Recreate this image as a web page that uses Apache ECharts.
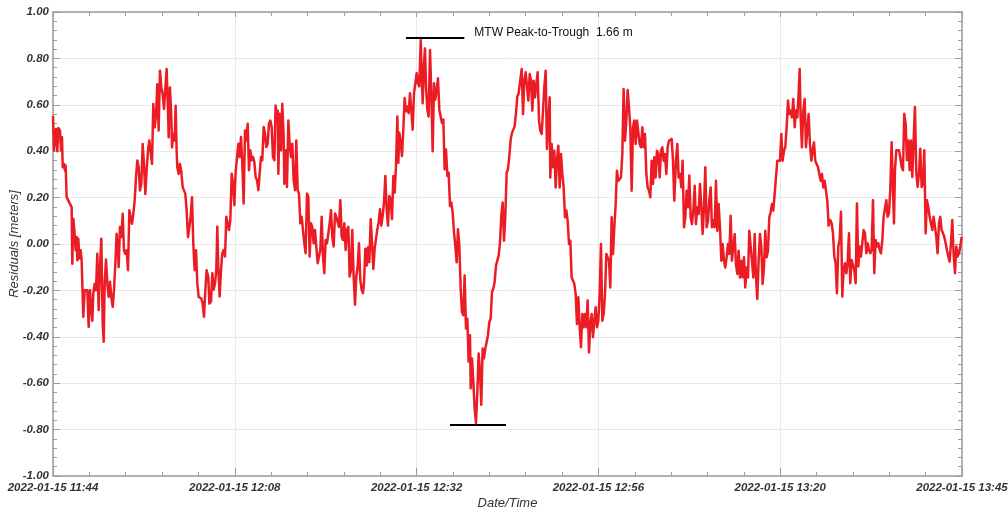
<!DOCTYPE html>
<html><head><meta charset="utf-8">
<script src="https://cdn.jsdelivr.net/npm/echarts@6/dist/echarts.min.js"></script>
<style>html,body{margin:0;padding:0;background:#fff}#c{width:1008px;height:513px}</style>
</head><body><div id="c"></div>
<script>
// x = minutes after 2022-01-15 11:44, y = residual in meters
const xTickLabels = ['2022-01-15 11:44','2022-01-15 12:08','2022-01-15 12:32','2022-01-15 12:56','2022-01-15 13:20','2022-01-15 13:45'];
const cycle1 = [[0.00,0.553],[0.13,0.403],[0.40,0.496],[0.57,0.40],[0.70,0.50],[0.92,0.489],[1.06,0.403],[1.19,0.46],[1.28,0.331],[1.45,0.345],[1.58,0.317],[1.67,0.338],[1.80,0.202],[2.02,0.209],[2.24,0.173],[2.46,0.159],[2.55,-0.085],[2.68,0.109],[2.82,0.059],[2.99,-0.027],[3.12,0.030],[3.21,-0.070],[3.34,0.023],[3.48,-0.063],[3.65,-0.027],[3.78,-0.070],[4.00,-0.314],[4.18,-0.199],[4.36,-0.199],[4.53,-0.199],[4.71,-0.357],[4.88,-0.199],[5.06,-0.285],[5.19,-0.331],[5.32,-0.214],[5.50,-0.171],[5.68,-0.199],[5.85,-0.042],[6.03,-0.285],[6.20,-0.099],[6.38,0.023],[6.56,-0.342],[6.69,-0.421],[6.82,-0.171],[7.00,-0.067],[7.17,-0.171],[7.35,-0.228],[7.52,-0.163],[7.70,-0.228],[7.88,-0.271],[8.05,-0.199],[8.23,-0.085],[8.40,0.044],[8.58,-0.027],[8.67,-0.099],[8.84,0.073],[9.02,0.030],[9.20,0.130],[9.37,-0.027],[9.55,-0.042],[9.72,-0.027],[9.90,-0.113],[10.08,0.145],[10.25,0.145],[10.43,0.087],[10.60,0.130],[10.78,0.188],[10.96,0.288],[11.13,0.360],[11.31,0.331],[11.48,0.231],[11.66,0.259],[11.84,0.431],[12.01,0.345],[12.19,0.216],[12.36,0.317],[12.54,0.403],[12.72,0.446],[12.89,0.453],[13.07,0.345],[13.24,0.603],[13.42,0.503],[13.60,0.553],[13.77,0.689],[13.95,0.489],[14.12,0.747],[14.30,0.675],[14.48,0.646],[14.65,0.582],[14.83,0.589],[15.00,0.754],[15.18,0.575],[15.27,0.460],[15.44,0.675],[15.62,0.546],[15.71,0.417],[15.88,0.474],[16.06,0.446],[16.19,0.596],[16.32,0.403],[16.41,0.331],[16.59,0.302],[16.76,0.345],[16.94,0.310],[17.12,0.245],[17.29,0.231],[17.47,0.216],[17.64,0.145],[17.82,0.030],[18.00,0.073],[18.17,0.116],[18.35,0.202],[18.52,0.001],[18.70,-0.113],[18.88,-0.027],[19.05,-0.171],[19.23,-0.228],[19.40,-0.235],[19.58,-0.235],[19.76,-0.257],[19.93,-0.314],[20.11,-0.199],[20.28,-0.113],[20.50,-0.142],[20.64,-0.257]];
const cycle2 = [[20.86,-0.248],[21.03,-0.126],[21.21,-0.197],[21.39,-0.169],[21.56,-0.112],[21.69,0.074],[21.83,-0.112],[22.00,-0.226],[22.18,-0.112],[22.35,-0.040],[22.53,-0.026],[22.71,-0.054],[22.88,0.117],[23.06,0.089],[23.23,0.060],[23.41,0.103],[23.59,0.303],[23.76,0.260],[23.94,0.167],[24.11,0.311],[24.29,0.318],[24.47,0.432],[24.64,0.375],[24.82,0.461],[24.99,0.346],[25.17,0.175],[25.35,0.489],[25.52,0.446],[25.70,0.518],[25.87,0.318],[26.05,0.404],[26.23,0.361],[26.40,0.375],[26.58,0.353],[26.75,0.289],[26.93,0.275],[27.11,0.232],[27.28,0.303],[27.46,0.375],[27.63,0.361],[27.81,0.504],[27.99,0.475],[28.16,0.418],[28.34,0.432],[28.51,0.518],[28.69,0.532],[28.87,0.504],[29.04,0.375],[29.22,0.361],[29.39,0.597],[29.57,0.532],[29.66,0.575],[29.75,0.303],[29.92,0.561],[30.10,0.404],[30.27,0.604],[30.45,0.461],[30.54,0.260],[30.71,0.404],[30.89,0.246],[31.07,0.532],[31.24,0.432],[31.42,0.375],[31.59,0.432],[31.77,0.275],[31.95,0.232],[32.12,0.446],[32.30,0.232],[32.47,0.218],[32.65,0.089],[32.83,0.117],[33.00,0.060],[33.18,0.003],[33.35,-0.040],[33.53,0.218],[33.71,0.203],[33.88,-0.054],[34.06,0.089],[34.23,0.074],[34.41,0.003],[34.59,0.060],[34.76,-0.011],[34.94,-0.083],[35.11,-0.054],[35.29,-0.026],[35.47,0.117],[35.64,-0.054],[35.82,-0.126],[35.99,0.017],[36.17,0.003],[36.35,0.046],[36.52,0.089],[36.70,0.146],[36.87,0.031],[37.05,-0.011],[37.23,0.132],[37.40,0.117],[37.58,0.124],[37.75,0.074],[37.93,0.189],[38.11,0.031],[38.28,0.017],[38.46,0.089],[38.63,-0.026],[38.81,0.060],[38.99,0.074],[39.16,-0.140],[39.34,-0.112],[39.51,0.060],[39.69,-0.140],[39.87,-0.262],[40.04,-0.140],[40.22,-0.097],[40.39,0.003],[40.57,-0.155],[40.75,-0.197],[40.92,-0.212]];
const cycle3 = [[41.06,-0.164],[41.23,-0.021],[41.41,-0.093],[41.58,-0.014],[41.76,-0.079],[41.94,0.107],[42.11,0.007],[42.29,-0.107],[42.46,-0.021],[42.64,-0.021],[42.82,0.064],[42.99,0.093],[43.17,0.150],[43.34,0.079],[43.52,0.121],[43.70,0.179],[43.87,0.293],[44.05,0.150],[44.22,0.079],[44.40,0.207],[44.58,0.193],[44.75,0.107],[44.93,0.293],[45.10,0.221],[45.28,0.336],[45.46,0.550],[45.59,0.350],[45.72,0.479],[45.90,0.436],[46.07,0.379],[46.25,0.493],[46.42,0.629],[46.60,0.572],[46.78,0.593],[46.95,0.564],[47.13,0.650],[47.30,0.579],[47.48,0.493],[47.66,0.650],[47.83,0.643],[48.01,0.736],[48.18,0.693],[48.36,0.679],[48.54,0.879],[48.67,0.736],[48.80,0.607],[48.98,0.779],[49.11,0.843],[49.24,0.679],[49.42,0.579],[49.59,0.550],[49.77,0.836],[49.94,0.650],[50.12,0.400],[50.30,0.693],[50.47,0.622],[50.65,0.664],[50.82,0.714],[51.00,0.579],[51.18,0.550],[51.35,0.522],[51.53,0.536],[51.70,0.322],[51.88,0.407],[52.06,0.293],[52.23,0.307],[52.41,0.164],[52.58,0.179],[52.76,0.136],[52.94,0.050],[53.11,-0.007],[53.29,-0.079],[53.46,0.064],[53.64,-0.007],[53.82,-0.193],[53.99,-0.293],[54.17,-0.307],[54.34,-0.136],[54.52,-0.364],[54.70,-0.322],[54.87,-0.507],[55.05,-0.393],[55.14,-0.622],[55.31,-0.493],[55.49,-0.593],[55.66,-0.707],[55.84,-0.772],[56.02,-0.636],[56.19,-0.472],[56.37,-0.550],[56.54,-0.693],[56.72,-0.450],[56.90,-0.493],[57.07,-0.450],[57.25,-0.422],[57.42,-0.393],[57.60,-0.336],[57.78,-0.322],[57.95,-0.207],[58.13,-0.193],[58.30,-0.164],[58.48,-0.093],[58.66,-0.093],[58.83,-0.050],[59.01,0.007],[59.18,0.121],[59.36,0.179],[59.54,0.014],[59.71,0.121],[59.89,0.307],[60.06,0.322],[60.24,0.379],[60.42,0.450],[60.59,0.479],[60.77,0.479],[60.94,0.507],[61.12,0.564],[61.30,0.636],[61.47,0.650]];
const cycle4 = [[61.69,0.647],[61.87,0.754],[62.05,0.560],[62.22,0.704],[62.40,0.740],[62.57,0.747],[62.75,0.618],[62.93,0.733],[63.10,0.704],[63.28,0.575],[63.45,0.704],[63.63,0.632],[63.81,0.690],[63.98,0.740],[64.16,0.532],[64.33,0.489],[64.51,0.474],[64.69,0.575],[64.86,0.675],[65.04,0.747],[65.21,0.410],[65.39,0.532],[65.57,0.632],[65.65,0.287],[65.83,0.431],[66.01,0.331],[66.18,0.402],[66.36,0.244],[66.53,0.359],[66.71,0.424],[66.89,0.244],[67.06,0.388],[67.24,0.302],[67.41,0.244],[67.59,0.115],[67.77,0.144],[67.94,0.101],[68.12,0.000],[68.29,0.014],[68.47,-0.144],[68.65,-0.158],[68.82,-0.172],[69.00,-0.216],[69.17,-0.345],[69.35,-0.230],[69.53,-0.359],[69.70,-0.445],[69.88,-0.302],[70.05,-0.359],[70.23,-0.302],[70.41,-0.359],[70.58,-0.244],[70.76,-0.467],[70.93,-0.345],[71.11,-0.302],[71.29,-0.402],[71.46,-0.331],[71.64,-0.273],[71.81,-0.359],[71.99,-0.331],[72.17,-0.216],[72.34,0.000],[72.52,-0.331],[72.69,-0.302],[72.87,-0.216],[73.05,-0.043],[73.22,-0.057],[73.40,-0.072],[73.57,-0.187],[73.75,0.115],[73.93,-0.043],[74.10,0.072],[74.28,0.172],[74.45,0.316],[74.63,0.273],[74.81,0.266],[74.98,0.287],[75.16,0.388],[75.33,0.668],[75.51,0.445],[75.69,0.532],[75.86,0.664],[76.04,0.589],[76.21,0.503],[76.39,0.230],[76.57,0.503],[76.74,0.532],[76.92,0.431],[77.09,0.532],[77.27,0.539],[77.45,0.431],[77.62,0.417],[77.80,0.503],[77.97,0.417],[78.15,0.474],[78.33,0.302],[78.50,0.244],[78.68,0.230],[78.85,0.201],[79.03,0.359],[79.21,0.259],[79.38,0.374],[79.56,0.287],[79.73,0.402],[79.91,0.388],[80.09,0.287],[80.26,0.402],[80.44,0.417],[80.61,0.359],[80.79,0.388],[80.97,0.302],[81.14,0.417],[81.32,0.445],[81.49,0.438],[81.67,0.453],[81.85,0.359],[82.02,0.187]];
const cycle5 = [[82.24,0.359],[82.42,0.431],[82.59,0.287],[82.77,0.302],[82.95,0.244],[83.12,0.359],[83.30,0.072],[83.47,0.115],[83.65,0.230],[83.83,0.158],[84.00,0.295],[84.18,0.115],[84.35,0.086],[84.53,0.144],[84.71,0.251],[84.88,0.086],[85.06,0.158],[85.23,0.129],[85.41,0.259],[85.59,0.158],[85.76,0.043],[85.94,0.158],[86.11,0.331],[86.29,0.072],[86.47,0.101],[86.64,0.187],[86.82,0.244],[86.99,0.072],[87.17,0.101],[87.35,0.072],[87.52,0.273],[87.70,0.057],[87.87,0.172],[88.05,0.072],[88.23,-0.072],[88.40,0.000],[88.58,-0.072],[88.75,-0.101],[88.93,-0.057],[89.11,0.000],[89.28,-0.043],[89.46,0.122],[89.63,-0.072],[89.81,-0.014],[89.99,0.043],[90.16,-0.086],[90.34,-0.129],[90.51,-0.029],[90.69,-0.144],[90.87,-0.072],[91.04,-0.144],[91.22,-0.057],[91.39,-0.187],[91.57,-0.101],[91.75,-0.144],[91.92,0.057],[92.10,0.065],[92.27,-0.072],[92.45,-0.144],[92.63,0.043],[92.80,-0.144],[92.98,-0.237],[93.15,-0.072],[93.33,0.043],[93.51,-0.014],[93.68,-0.172],[93.86,-0.101],[94.03,0.057],[94.21,-0.057],[94.39,-0.029],[94.56,0.115],[94.74,0.137],[94.91,0.172],[95.09,0.144],[95.27,0.216],[95.44,0.216],[95.62,0.359],[95.79,0.359],[95.97,0.359],[96.15,0.474],[96.32,0.359],[96.50,0.402],[96.67,0.417],[96.85,0.503],[97.03,0.618],[97.20,0.560],[97.38,0.575],[97.55,0.546],[97.73,0.625],[97.91,0.503],[98.08,0.575],[98.26,0.546],[98.43,0.647],[98.57,0.754],[98.70,0.546],[98.87,0.417],[99.05,0.575],[99.23,0.625],[99.40,0.417],[99.58,0.489],[99.75,0.560],[99.93,0.431],[100.11,0.359],[100.28,0.402],[100.46,0.438],[100.63,0.359],[100.81,0.359],[100.99,0.331],[101.16,0.302],[101.34,0.273],[101.51,0.302],[101.69,0.244],[101.87,0.273],[102.04,0.230],[102.22,0.187],[102.39,0.079]];
const cycle6 = [[102.61,0.103],[102.79,0.089],[102.97,0.046],[103.14,-0.054],[103.32,-0.083],[103.49,-0.212],[103.67,-0.011],[103.85,0.017],[104.02,0.139],[104.20,-0.226],[104.37,-0.112],[104.55,-0.083],[104.73,-0.126],[104.90,-0.083],[105.08,0.046],[105.25,-0.169],[105.43,-0.069],[105.61,-0.069],[105.78,-0.112],[105.96,-0.169],[106.13,0.175],[106.31,-0.097],[106.49,-0.011],[106.66,-0.054],[106.84,-0.054],[107.01,0.060],[107.19,0.046],[107.37,-0.040],[107.54,0.003],[107.72,-0.026],[107.89,-0.040],[108.07,-0.026],[108.25,0.189],[108.42,-0.126],[108.60,0.017],[108.77,-0.011],[108.95,0.003],[109.13,-0.026],[109.30,-0.040],[109.48,0.017],[109.65,0.117],[109.83,0.117],[110.01,0.189],[110.18,0.117],[110.36,0.132],[110.53,0.232],[110.71,0.439],[110.89,0.232],[111.02,0.089],[111.15,0.318],[111.33,0.404],[111.50,0.411],[111.68,0.404],[111.85,0.375],[112.03,0.332],[112.21,0.318],[112.38,0.561],[112.56,0.518],[112.73,0.361],[112.91,0.446],[113.09,0.318],[113.26,0.446],[113.44,0.289],[113.61,0.446],[113.79,0.590],[113.97,0.303],[114.14,0.246],[114.32,0.303],[114.49,0.411],[114.67,0.246],[114.85,0.260],[115.02,0.404],[115.20,0.046],[115.37,0.189],[115.55,0.160],[115.73,0.117],[115.90,0.089],[116.08,0.060],[116.25,0.117],[116.43,0.074],[116.61,0.031],[116.78,-0.040],[116.96,0.089],[117.13,0.117],[117.31,0.060],[117.49,0.046],[117.66,0.031],[117.84,0.003],[118.01,-0.026],[118.19,-0.054],[118.37,-0.076],[118.54,0.003],[118.72,0.103],[118.89,-0.040],[119.07,-0.126],[119.25,-0.011],[119.42,-0.054],[119.60,-0.040],[119.77,-0.011],[119.95,0.031],[120.00,0.03]];
const peakMark = {from: 46.6, to: 54.3, level: 0.89};
const troughMark = {from: 52.4, to: 59.8, level: -0.78};
const noteText = 'MTW Peak-to-Trough  1.66 m';
const notePos = [54.9, 0.909];

const residuals = [].concat(cycle1, cycle2, cycle3, cycle4, cycle5, cycle6);
const axisColor = '#9b9b9b';
const labelFont = {fontFamily:'Liberation Sans', fontSize:11.5, fontWeight:'bold', fontStyle:'italic', color:'#333'};
const nameFont = {fontFamily:'Liberation Sans', fontSize:13, fontStyle:'italic', color:'#333'};
const chart = echarts.init(document.getElementById('c'), null, {renderer:'canvas'});
const baseX = {
  type:'value', min:0, max:120, interval:24,
  axisLine:{show:true, onZero:false, lineStyle:{color:axisColor, width:1.5}},
  axisTick:{show:true, inside:true, length:8, lineStyle:{color:axisColor}},
  minorTick:{show:true, splitNumber:5, length:4, lineStyle:{color:axisColor}}
};
const baseY = {
  type:'value', min:-1, max:1, interval:0.2,
  axisLine:{show:true, onZero:false, lineStyle:{color:axisColor, width:1.5}},
  axisTick:{show:true, inside:true, length:7, lineStyle:{color:axisColor}},
  minorTick:{show:true, splitNumber:5, length:4, lineStyle:{color:axisColor}}
};
chart.setOption({
  animation:false,
  backgroundColor:'#fff',
  grid:{left:53, right:46, top:12, bottom:37, containLabel:false, outerBoundsMode:'none'},
  xAxis:[
    Object.assign({}, baseX, {
      position:'bottom',
      splitLine:{show:true, lineStyle:{color:'#e9e9e9', width:1}},
      axisLabel:Object.assign({}, labelFont, {margin:6, showMinLabel:true, showMaxLabel:true,
        formatter:v => xTickLabels[Math.round(v/24)]}),
      name:'Date/Time', nameLocation:'middle', nameGap:21, nameMoveOverlap:false, nameTextStyle:nameFont
    }),
    Object.assign({}, baseX, {
      position:'top', axisTick:{show:true, inside:true, length:5, lineStyle:{color:axisColor}},
      splitLine:{show:false}, axisLabel:{show:false}
    })
  ],
  yAxis:[
    Object.assign({}, baseY, {
      position:'left',
      splitLine:{show:true, lineStyle:{color:'#e9e9e9', width:1}},
      axisLabel:Object.assign({}, labelFont, {margin:4,
        formatter:v => (Math.abs(v) < 1e-9 ? 0 : v).toFixed(2)}),
      name:'Residuals [meters]', nameLocation:'middle', nameGap:32, nameRotate:90, nameMoveOverlap:false, nameTextStyle:nameFont
    }),
    Object.assign({}, baseY, {
      position:'right', splitLine:{show:false}, axisLabel:{show:false}
    })
  ],
  series:[{
    type:'line', data:residuals, xAxisIndex:0, yAxisIndex:0,
    showSymbol:false, symbol:'none', silent:true,
    lineStyle:{color:'#ec1c24', width:2.5, join:'round'},
    markLine:{
      silent:true, symbol:['none','none'], label:{show:false},
      lineStyle:{color:'#000', width:2, type:'solid'},
      data:[
        [{coord:[peakMark.from, peakMark.level]}, {coord:[peakMark.to, peakMark.level]}],
        [{coord:[troughMark.from, troughMark.level]}, {coord:[troughMark.to, troughMark.level]}]
      ]
    },
    markPoint:{
      silent:true,
      data:[{coord:notePos, symbol:'circle', symbolSize:1, itemStyle:{color:'rgba(0,0,0,0)'},
        label:{show:true, position:'right', distance:5, formatter:noteText,
          fontFamily:'Liberation Sans', fontSize:12, color:'#111'}}]
    }
  }]
});
</script>
</body></html>
